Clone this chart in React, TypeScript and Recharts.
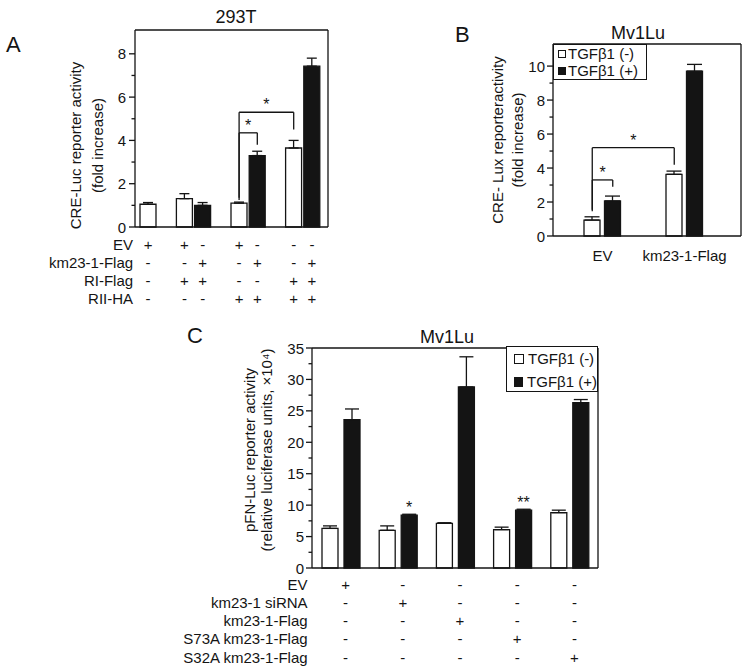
import React from 'react';
import { BarChart, Bar, XAxis, YAxis, ErrorBar, ReferenceLine, Legend, LabelList } from 'recharts';

const FONT = '"Liberation Sans", Arial, Helvetica, sans-serif';
const INK = '#141414';
const LW = 1.3;

// ---------------- Panel A (293T) ----------------
const aGroups = ['EV only', 'RI-Flag', 'RII-HA', 'RI-Flag + RII-HA'];
const aControl = [1.05, 1.31, 1.1, 3.65];
const aControlErr = [0.08, 0.23, 0.05, 0.35];
const aKm23: (number | null)[] = [null, 1.0, 3.3, 7.43];
const aKm23Err: (number | null)[] = [null, 0.13, 0.2, 0.37];
const aRowLabels = ['EV', 'km23-1-Flag', 'RI-Flag', 'RII-HA'];
const aSignsEV = ['+', '+', '-', '+', '-', '-', '-'];
const aSignsKm23 = ['-', '-', '+', '-', '+', '-', '+'];
const aSignsRI = ['-', '+', '+', '-', '-', '+', '+'];
const aSignsRII = ['-', '-', '-', '+', '+', '+', '+'];
const aYTicks = [0, 1, 2, 3, 4, 5, 6, 7, 8];
const aBrackets = [
  { from: 's5', to: 's6', low: 1.25, top: 4.35, end: 3.8 },
  { from: 's5', to: 's8', low: 1.35, top: 5.3, end: 4.5 },
];

// ---------------- Panel B (Mv1Lu, CRE-Lux) ----------------
const seriesNames = ['TGFβ1 (-)', 'TGFβ1 (+)'];
const bCategories = ['EV', 'km23-1-Flag'];
const bMinus = [0.94, 3.63];
const bMinusErr = [0.19, 0.19];
const bPlus = [2.06, 9.7];
const bPlusErr = [0.29, 0.4];
const bYTicks = [0, 1, 2, 3, 4, 5, 6, 7, 8, 9, 10];
const bBrackets = [
  { from: 'b0', to: 'b1', low: 1.45, top: 3.3, end: 2.9 },
  { from: 'b0', to: 'b4', low: 1.55, top: 5.2, end: 4.2 },
];

// ---------------- Panel C (Mv1Lu, pFN-Luc) ----------------
const cConditions = ['EV', 'km23-1 siRNA', 'km23-1-Flag', 'S73A km23-1-Flag', 'S32A km23-1-Flag'];
const cMinus = [6.3, 6.0, 7.1, 6.1, 8.8];
const cMinusErr = [0.4, 0.7, 0.1, 0.4, 0.4];
const cPlus = [23.6, 8.4, 28.8, 9.2, 26.3];
const cPlusErr = [1.7, 0.15, 4.8, 0.15, 0.5];
const cSig = ['', '*', '', '**', ''];
const cYTicks = [0, 2.5, 5, 7.5, 10, 12.5, 15, 17.5, 20, 22.5, 25, 27.5, 30, 32.5, 35];

// ---------- build tables ----------
type Slot = { [k: string]: any };
const aSlots: Slot[] = [];
{
  let bar = 0;
  const col = (i: number) => [aSignsEV[i], aSignsKm23[i], aSignsRI[i], aSignsRII[i]];
  aGroups.forEach((g, gi) => {
    if (gi > 1) aSlots.push({ slot: `s${aSlots.length}` });
    aSlots.push({ slot: `s${aSlots.length}`, group: g, control: aControl[gi], controlErr: [0, aControlErr[gi]], signs: col(bar++) });
    const k = aKm23[gi];
    if (k == null) aSlots.push({ slot: `s${aSlots.length}` });
    else aSlots.push({ slot: `s${aSlots.length}`, group: g, km23: k, km23Err: [0, aKm23Err[gi] as number], signs: col(bar++) });
  });
}

const bSlots: Slot[] = [];
bCategories.forEach((c, i) => {
  if (i > 0) {
    bSlots.push({ slot: `b${bSlots.length}` });
    bSlots.push({ slot: `b${bSlots.length}` });
  }
  bSlots.push({ slot: `b${bSlots.length}`, label: c, minus: bMinus[i], minusErr: [0, bMinusErr[i]] });
  bSlots.push({ slot: `b${bSlots.length}`, plus: bPlus[i], plusErr: [0, bPlusErr[i]] });
});

const cData = cConditions.map((c, i) => ({
  condition: c,
  minus: cMinus[i],
  minusErr: [0, cMinusErr[i]],
  plus: cPlus[i],
  plusErr: [0, cPlusErr[i]],
  sig: cSig[i],
}));

// ---------- shared renderers ----------
const txt = (fs: number) => ({ fontFamily: FONT, fontSize: fs, fill: INK });

const makeYTick = (isMajor: (v: number) => boolean, fs: number, gap: number) => (props: any) => {
  const { x, y, payload } = props;
  const v = payload.value;
  const major = isMajor(v);
  return (
    <g>
      <line x1={x} x2={x - (major ? 6 : 3.5)} y1={y} y2={y} stroke={INK} strokeWidth={LW} />
      {major && (
        <text x={x - gap} y={y} textAnchor="end" dominantBaseline="central" {...txt(fs)}>
          {v}
        </text>
      )}
    </g>
  );
};

const makeYLabel = (lines: string[], xs: number[], dy: number, fs: number) => (props: any) => {
  const vb = props.viewBox || { x: 0, y: 0, width: 0, height: 0 };
  const cy = vb.y + vb.height / 2 + dy;
  return (
    <g>
      {lines.map((t, i) => {
        const x = vb.x + xs[i];
        return (
          <text key={i} x={x} y={cy} transform={`rotate(-90 ${x} ${cy})`} textAnchor="middle" dominantBaseline="central" {...txt(fs)}>
            {t}
          </text>
        );
      })}
    </g>
  );
};

const bracketLines = (br: { from: string; to: string; low: number; top: number; end: number }, key: string) => [
  <ReferenceLine key={key + 'l'} segment={[{ x: br.from, y: br.low }, { x: br.from, y: br.top }]} stroke={INK} strokeWidth={LW} />,
  <ReferenceLine
    key={key + 't'}
    segment={[{ x: br.from, y: br.top }, { x: br.to, y: br.top }]}
    stroke={INK}
    strokeWidth={LW}
    label={{ value: '*', position: 'top', offset: 2, fontSize: 16, fill: INK, fontFamily: FONT }}
  />,
  <ReferenceLine key={key + 'r'} segment={[{ x: br.to, y: br.top }, { x: br.to, y: br.end }]} stroke={INK} strokeWidth={LW} />,
];

const seriesFill = ['#ffffff', INK];
const makeLegend = (w: number, h: number, fs: number, sq: number, rowH: number, padL: number, gap: number) => () => (
  <div
    style={{
      width: w,
      height: h,
      border: `${LW}px solid ${INK}`,
      boxSizing: 'border-box',
      background: '#fff',
      fontFamily: FONT,
      fontSize: fs,
      color: INK,
      paddingLeft: padL,
      paddingTop: (h - 2 * rowH) / 2 - 1,
      lineHeight: 1,
    }}
  >
    {seriesNames.map((name, i) => (
      <div key={i} style={{ display: 'flex', alignItems: 'center', height: rowH, whiteSpace: 'nowrap' }}>
        <span
          style={{
            display: 'inline-block',
            width: sq,
            height: sq,
            boxSizing: 'border-box',
            background: seriesFill[i],
            border: `1px solid ${INK}`,
            marginRight: gap,
          }}
        />
        {name}
      </div>
    ))}
  </div>
);

const axisLine = { stroke: INK, strokeWidth: LW };

// ---------- Panel A ----------
const ATick = (props: any) => {
  const { x, y, payload, index } = props;
  const slot = aSlots.find((s) => s.slot === payload.value);
  const rowY = (i: number) => y + 17 + i * 18.3;
  return (
    <g>
      {index === 0 &&
        aRowLabels.map((l, i) => (
          <text key={'l' + i} x={x - 15} y={rowY(i)} textAnchor="end" dominantBaseline="central" {...txt(15)}>
            {l}
          </text>
        ))}
      {slot && slot.signs &&
        slot.signs.map((s: string, i: number) => (
          <text key={'s' + i} x={x} y={rowY(i)} textAnchor="middle" dominantBaseline="central" {...txt(15)}>
            {s}
          </text>
        ))}
    </g>
  );
};

function PanelA() {
  return (
    <BarChart width={340} height={310} data={aSlots} margin={{ top: 29, right: 11, bottom: 3, left: 55 }} barSize={16}>
      <XAxis dataKey="slot" tick={<ATick />} tickLine={false} tickSize={0} tickMargin={0} interval={0} height={80} axisLine={axisLine} padding={{ left: 4, right: 7 }} />
      <XAxis xAxisId="t" orientation="top" dataKey="slot" tick={false} tickLine={false} height={1} axisLine={axisLine} />
      <YAxis
        domain={[0, 9.1]}
        ticks={aYTicks}
        interval={0}
        tick={makeYTick((v) => v % 2 === 0, 15, 9)}
        tickLine={false}
        tickSize={0}
        tickMargin={0}
        width={80}
        axisLine={axisLine}
        label={makeYLabel(['CRE-Luc reporter activity', '(fold increase)'], [20, 42], 17, 15)}
      />
      <YAxis yAxisId="r" orientation="right" domain={[0, 9.1]} tick={false} tickLine={false} width={1} axisLine={axisLine} />
      <Bar dataKey="control" stackId="a" fill="#ffffff" stroke={INK} strokeWidth={LW} isAnimationActive={false}>
        <ErrorBar dataKey="controlErr" width={5} stroke={INK} strokeWidth={LW} direction="y" />
      </Bar>
      <Bar dataKey="km23" stackId="a" fill={INK} stroke={INK} strokeWidth={LW} isAnimationActive={false}>
        <ErrorBar dataKey="km23Err" width={5} stroke={INK} strokeWidth={LW} direction="y" />
      </Bar>
      {aBrackets.map((b, i) => bracketLines(b, 'a' + i))}
    </BarChart>
  );
}

// ---------- Panel B ----------
const BTick = (props: any) => {
  const { x, y, payload } = props;
  const slot = bSlots.find((s) => s.slot === payload.value);
  if (!slot || !slot.label) return <g />;
  const off = typeof payload.offset === 'number' ? payload.offset : 10;
  return (
    <text x={x + off} y={y + 19} textAnchor="middle" dominantBaseline="central" {...txt(15)}>
      {slot.label}
    </text>
  );
};

function PanelB() {
  return (
    <BarChart width={370} height={300} data={bSlots} margin={{ top: 43, right: 8, bottom: 24, left: 113 }} barSize={16}>
      <XAxis dataKey="slot" tick={<BTick />} tickLine={false} tickSize={0} tickMargin={0} interval={0} height={40} axisLine={axisLine} padding={{ left: 29, right: 36 }} />
      <XAxis xAxisId="t" orientation="top" dataKey="slot" tick={false} tickLine={false} height={1} axisLine={axisLine} />
      <YAxis
        domain={[0, 11.3]}
        ticks={bYTicks}
        interval={0}
        tick={makeYTick((v) => v % 2 === 0, 15, 8)}
        tickLine={false}
        tickSize={0}
        tickMargin={0}
        width={60}
        axisLine={axisLine}
        label={makeYLabel(['CRE- Lux reporteractivity', '(fold increase)'], [4, 24], 0, 15)}
      />
      <YAxis yAxisId="r" orientation="right" domain={[0, 11.3]} tick={false} tickLine={false} width={1} axisLine={axisLine} />
      <Bar name={seriesNames[0]} dataKey="minus" stackId="b" fill="#ffffff" stroke={INK} strokeWidth={LW} isAnimationActive={false}>
        <ErrorBar dataKey="minusErr" width={7.5} stroke={INK} strokeWidth={LW} direction="y" />
      </Bar>
      <Bar name={seriesNames[1]} dataKey="plus" stackId="b" fill={INK} stroke={INK} strokeWidth={LW} isAnimationActive={false}>
        <ErrorBar dataKey="plusErr" width={7.5} stroke={INK} strokeWidth={LW} direction="y" />
      </Bar>
      {bBrackets.map((b, i) => bracketLines(b, 'b' + i))}
      <Legend content={makeLegend(94, 36, 15, 8, 17, 4, 2)} wrapperStyle={{ top: 44, left: 173, width: 94, height: 36 }} layout="vertical" align="center" verticalAlign="middle" />
    </BarChart>
  );
}

// ---------- Panel C ----------
const CTick = (props: any) => {
  const { x, y, payload, index } = props;
  const rowY = (i: number) => y + 16 + i * 18.3;
  return (
    <g>
      {index === 0 &&
        cConditions.map((c, i) => (
          <text key={'l' + i} x={x - 33} y={rowY(i)} textAnchor="end" dominantBaseline="central" {...txt(15)}>
            {c}
          </text>
        ))}
      {cConditions.map((c, i) => (
        <text key={'s' + i} x={x + 5} y={rowY(i)} textAnchor="middle" dominantBaseline="central" {...txt(15)}>
          {c === payload.value ? '+' : '-'}
        </text>
      ))}
    </g>
  );
};

function PanelC() {
  return (
    <BarChart width={440} height={372} data={cData} margin={{ top: 47, right: 21, bottom: 4, left: 60 }} barSize={16} barGap={6}>
      <XAxis dataKey="condition" tick={<CTick />} tickLine={false} tickSize={0} tickMargin={0} interval={0} height={100} axisLine={axisLine} />
      <XAxis xAxisId="t" orientation="top" dataKey="condition" tick={false} tickLine={false} height={1} axisLine={axisLine} />
      <YAxis
        domain={[0, 35]}
        ticks={cYTicks}
        interval={0}
        tick={makeYTick((v) => v % 5 === 0, 15, 8)}
        tickLine={false}
        tickSize={0}
        tickMargin={0}
        width={72}
        axisLine={axisLine}
        label={makeYLabel(['pFN-Luc reporter activity', '(relative luciferase units, ×10⁴)'], [9, 26], -8, 15)}
      />
      <YAxis yAxisId="r" orientation="right" domain={[0, 35]} tick={false} tickLine={false} width={1} axisLine={axisLine} />
      <Bar name={seriesNames[0]} dataKey="minus" fill="#ffffff" stroke={INK} strokeWidth={LW} isAnimationActive={false}>
        <ErrorBar dataKey="minusErr" width={7} stroke={INK} strokeWidth={LW} direction="y" />
      </Bar>
      <Bar name={seriesNames[1]} dataKey="plus" fill={INK} stroke={INK} strokeWidth={LW} isAnimationActive={false}>
        <ErrorBar dataKey="plusErr" width={7} stroke={INK} strokeWidth={LW} direction="y" />
        <LabelList dataKey="sig" position="top" offset={2} fontSize={16} fill={INK} fontFamily={FONT} />
      </Bar>
      <Legend content={makeLegend(92, 46, 15, 10, 23, 7, 4)} wrapperStyle={{ top: 46, left: 326, width: 92, height: 46 }} layout="vertical" align="center" verticalAlign="middle" />
    </BarChart>
  );
}

export default function App() {
  return (
    <div style={{ position: 'absolute', left: 0, top: 0, width: 750, height: 672, background: '#fff', overflow: 'hidden', fontFamily: FONT }}>
      <div style={{ position: 'absolute', left: 0, top: 0 }}>
        <PanelA />
      </div>
      <div style={{ position: 'absolute', left: 380, top: 0 }}>
        <PanelB />
      </div>
      <div style={{ position: 'absolute', left: 180, top: 300 }}>
        <PanelC />
      </div>
      <svg width={750} height={672} style={{ position: 'absolute', left: 0, top: 0, pointerEvents: 'none' }}>
        <text x={6} y={52} {...txt(22)}>A</text>
        <text x={236} y={23} textAnchor="middle" {...txt(18)}>293T</text>
        <text x={455} y={42} {...txt(22)}>B</text>
        <text x={638} y={39} textAnchor="middle" {...txt(18)}>Mv1Lu</text>
        <text x={187} y={343} {...txt(22)}>C</text>
        <text x={447} y={343} textAnchor="middle" {...txt(18)}>Mv1Lu</text>
      </svg>
    </div>
  );
}
